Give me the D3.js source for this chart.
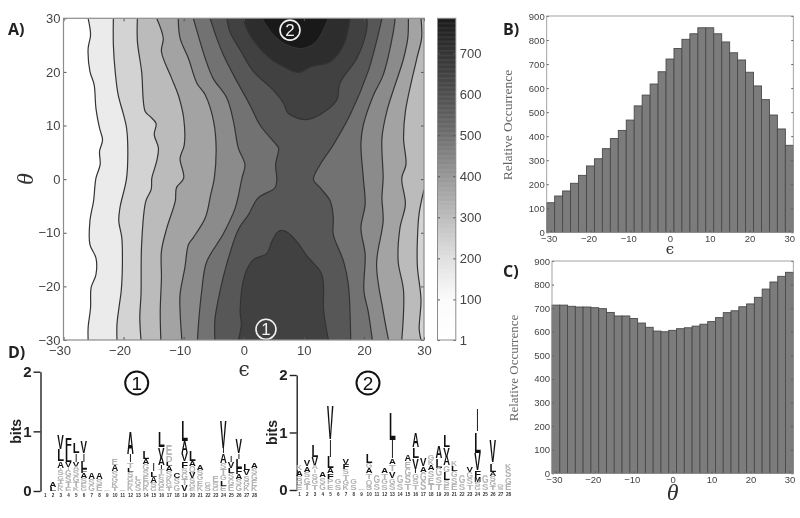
<!DOCTYPE html>
<html>
<head>
<meta charset="utf-8">
<script src="https://cdn.jsdelivr.net/npm/d3@7"></script>
<style>
  html, body { margin: 0; padding: 0; background: #fff; }
  svg { display: block; filter: blur(0.5px); }
  text { font-family: "Liberation Sans", sans-serif; }
</style>
</head>
<body>
<div id="figure"></div>
<script>
// Contour lines of panel A as [epsilon, theta], top to bottom
const level1 = [[-25.9,30],[-25.5,26.9],[-25.9,24.4],[-25.6,20.1],[-24.9,17.6],[-24.6,13.2],[-24,9.5],[-23.5,7.3],[-24,5.2],[-23.9,2.7],[-24.6,0.2],[-25,-4.1],[-25.6,-7.8],[-25.6,-12.2],[-24.6,-14.7],[-24.6,-17.8],[-25.4,-20.2],[-25.5,-24],[-25.9,-27.7],[-25.9,-30]];
const level2 = [[-21.7,30],[-21.7,25],[-21.4,20.1],[-20.9,15.7],[-20,12],[-19.5,9.5],[-19.3,5.8],[-19.5,0.2],[-20.6,-5.3],[-20.8,-7.8],[-20.3,-10.9],[-20.2,-15.9],[-20.4,-20.9],[-20.7,-23.4],[-21.1,-27.1],[-21.1,-30]];
const level3Left = [[-17.7,30],[-17.7,25.7],[-17,20.1],[-16.4,12.6],[-15.6,11.7],[-14.6,10.4],[-14.9,8.3],[-14.2,5.8],[-14.5,3.3],[-15.3,0.2],[-15.4,-1.9],[-16.3,-4.1],[-17,-12.2],[-17.1,-21.5],[-17.3,-25.8],[-17.1,-30]];
const level3Right = [[30,-2],[29.2,-6.3],[28.9,-11.3],[28.9,-16.3],[29.5,-22.5],[29.2,-28],[29.5,-30]];
const level4Left = [[-14.5,30],[-13.4,26.3],[-13.7,23.8],[-12,18.8],[-10.9,15.7],[-10,11.4],[-9.9,6.4],[-10.6,3.9],[-10,0.2],[-11.2,-1.6],[-11.4,-4.1],[-12.8,-9.1],[-13.7,-13.4],[-13.7,-18.4],[-13.9,-24.6],[-13.8,-30]];
const level4Right = [[29.5,30],[29.6,26.3],[28.8,22.5],[26.9,12.6],[26.6,7.6],[27,2.7],[26.3,0.2],[26.9,-4.7],[26,-9.1],[25.7,-15.3],[26.6,-20.9],[26.3,-30]];
const level5Left = [[-10.9,30],[-10.6,26.3],[-9.2,22.5],[-7.8,17.9],[-6.4,15.7],[-5,10.7],[-4.6,5.8],[-4.9,0.2],[-5.5,-2.9],[-6.4,-7.2],[-8.4,-10.9],[-9.2,-12.2],[-9.8,-16.5],[-10.6,-21.5],[-10.6,-24.6],[-10.3,-30]];
const level5Right = [[27.4,30],[27.3,26.3],[26.6,22.5],[23.8,12.6],[23,7.6],[23.2,0.2],[23,-3.5],[23.2,-7.8],[22.1,-15.9],[23.2,-24.6],[24.1,-30]];
const level6Left = [[-8.4,30],[-7.6,26.9],[-6.4,22.5],[-5.1,18.8],[-2.8,15.1],[-1.7,10.7],[-0.9,5.8],[0.2,2.7],[-0.3,0.2],[-1.4,-5.3],[-3.4,-10.2],[-6.2,-15.5],[-7,-20.9],[-7.5,-26.5],[-7.7,-30]];
const level6Right = [[25.2,30],[24.9,27.5],[23.2,19.4],[21.6,15.7],[19.9,10.1],[19.5,6.7],[19.9,0.2],[20.2,-4.7],[19.5,-9.1],[20.2,-14],[20,-20.9],[20.7,-24.6],[21.4,-30]];
const level7Left = [[-5.6,30],[-4.5,26.3],[-3.4,23.2],[-1.7,19.4],[1,13.9],[2.7,10.1],[5.2,6.7],[5.8,5.8],[5.3,2.7],[5.5,-0.1],[5.2,-1.6],[2.4,-3.5],[0.8,-6.6],[-0.9,-9.4],[-2.8,-15.7],[-3.9,-20.6],[-4.8,-26.2],[-4.8,-30]];
const level7Right = [[23,30],[22.1,25.7],[20.7,20.1],[17.7,12],[14.9,6.4],[12.7,2.7],[11.6,-0.1],[12.7,-1.6],[14.4,-4.1],[14.9,-7.2],[14.9,-10.3],[16.6,-15.3],[17.4,-19.6],[17.8,-30]];
const level8Top = [[-2.8,30],[-2.3,27.5],[-0.6,24.1],[1.6,20.1],[4.9,16.6],[6.6,14.2],[7.4,12.3],[10.5,11.1],[13.5,12.6],[15.5,14.8],[16,17.9],[18.8,22.5],[20.4,27.5],[20.5,30]];
const level8Bottom = [[-0.9,-30],[-0.4,-27.1],[-0.6,-24.6],[0.2,-17.8],[1.6,-15],[3.8,-13.9],[4.7,-11.6],[5.8,-9.7],[6.9,-9.7],[8.8,-11.6],[10.5,-14.3],[13,-17.8],[13.3,-24.6],[14.1,-30]];
const level9 = [[-0.1,30],[1,26.9],[4.4,22.5],[6.6,21],[9.1,19.9],[11.3,21],[14.4,21.9],[16.6,25],[17.7,30]];
const level10 = [[3,30],[4.9,26.9],[7.2,25],[9.9,24.4],[12.1,25.7],[14.1,30]];

// Grey of each band, lightest first
const bandGreys = ["#ebebeb","#d3d3d3","#bbbbbb","#a3a3a3","#8b8b8b","#727272","#575757","#414141","#2d2d2d","#191919"];

// Colour bar
const barValues = [1,100,200,300,400,500,600,700,785];
const barGreys = ["#ffffff","#fbfbfb","#e0e0e0","#bdbdbd","#989898","#707070","#505050","#353535","#1c1c1c"];
const barTicks = [1,100,200,300,400,500,600,700];

// Circled numbers on panel A
const markerNames = ["1","2"];
const markerEps = [3.7,7.7];
const markerTheta = [-28,27.8];

// Histograms, bins of width 2 from -30 to 30
const binCentres = d3.range(-30,31,2);
const epsCounts = [123,151,172,204,237,276,306,348,390,424,467,526,571,617,668,721,765,803,826,851,851,826,792,747,717,666,609,552,488,430,362];
const thetaCounts = [713,713,708,705,705,702,698,682,667,667,656,637,619,603,600,606,613,617,624,632,643,660,681,689,706,718,746,781,811,835,852];
const histXTicks = [-30,-20,-10,0,10,20,30];
const histYTicks = d3.range(0,901,100);

// Sequence logos: column number, then the letters top down with their height in bits
const logoOne = [
  [2,[["A",.08],["L",.07]]],
  [3,[["V",.24],["L",.2],["A",.11],["I",.05],["S",.08],["G",.07],["T",.07],["E",.06],["K",.06]]],
  [4,[["F",.2],["L",.2],["V",.08],["I",.05],["G",.1],["S",.1],["T",.08],["E",.07]]],
  [5,[["L",.17],["I",.14],["V",.08],["A",.06],["S",.1],["G",.1],["T",.08],["K",.07]]],
  [6,[["V",.2],["I",.14],["L",.12],["F",.07],["A",.08],["S",.08],["E",.07],["G",.07]]],
  [7,[["A",.1],["S",.1],["G",.1]]],
  [8,[["A",.1],["S",.1],["E",.1]]],
  [9,[["G",.03]]],
  [10,[["E",.11],["A",.1],["S",.1],["G",.09],["K",.08],["T",.07]]],
  [11,[["S",.03]]],
  [12,[["A",.38],["I",.14],["T",.09],["L",.07],["S",.08],["G",.07],["E",.07],["K",.1]]],
  [13,[["L",.06],["G",.09],["S",.1]]],
  [14,[["L",.14],["A",.09],["G",.1],["S",.1],["E",.09],["D",.08],["K",.08]]],
  [15,[["I",.12],["L",.09],["A",.1],["S",.08],["G",.06]]],
  [16,[["L",.27],["V",.17],["A",.12],["I",.08],["T",.08],["F",.05],["S",.08],["G",.08],["E",.07]]],
  [17,[["E",.17],["D",.11],["L",.07],["A",.09],["S",.1],["K",.1],["G",.07],["T",.06]]],
  [18,[["C",.08],["S",.11],["G",.11]]],
  [19,[["L",.36],["A",.2],["V",.14],["F",.11],["S",.09],["G",.1],["T",.1],["V",.1]]],
  [20,[["L",.17],["A",.09],["Q",.1],["V",.1],["S",.09],["G",.08],["E",.05]]],
  [21,[["A",.09],["S",.09],["G",.09],["E",.09],["K",.09]]],
  [22,[["G",.06],["S",.09]]],
  [23,[["E",.1],["S",.08],["G",.07]]],
  [24,[["V",.47],["I",.09],["A",.16],["S",.1],["T",.1],["G",.09],["L",.09],["E",.09]]],
  [25,[["I",.11],["V",.11],["L",.08],["S",.1],["G",.1],["E",.1]]],
  [26,[["V",.24],["I",.09],["L",.15],["F",.1],["A",.09],["S",.1],["G",.1]]],
  [27,[["L",.1],["V",.09],["S",.09],["G",.09],["K",.08]]],
  [28,[["A",.09],["S",.1],["G",.1],["E",.1],["K",.09]]]
];
const logoTwo = [
  [1,[["K",.08],["A",.09],["S",.09],["G",.08],["E",.08]]],
  [2,[["V",.12],["A",.09],["S",.1],["G",.11],["T",.11]]],
  [3,[["L",.2],["V",.15],["A",.06],["I",.06],["S",.1],["G",.1],["T",.1]]],
  [4,[["A",.08],["S",.11],["G",.11]]],
  [5,[["V",.6],["I",.3],["L",.2],["A",.08],["F",.1],["P",.1],["E",.1]]],
  [6,[["G",.1],["S",.1]]],
  [7,[["V",.1],["F",.08],["S",.1],["T",.1],["G",.09],["K",.08]]],
  [8,[["G",.1],["S",.1]]],
  [9,[["S",.02]]],
  [10,[["L",.16],["G",.08],["A",.1],["T",.1],["Q",.1],["S",.09]]],
  [11,[["G",.13],["S",.12]]],
  [12,[["A",.1],["T",.1],["G",.1],["S",.1]]],
  [13,[["L",.48],["I",.32],["A",.1],["T",.12],["V",.12],["G",.1],["S",.11]]],
  [14,[["G",.13],["S",.12]]],
  [15,[["A",.12],["E",.12],["G",.13],["S",.13],["T",.12]]],
  [16,[["A",.26],["L",.19],["V",.18],["I",.07],["G",.1],["S",.1],["T",.1]]],
  [17,[["V",.13],["A",.1],["G",.16],["S",.16]]],
  [18,[["G",.09],["K",.09],["A",.09],["S",.12],["E",.12],["T",.11]]],
  [19,[["A",.2],["L",.16],["G",.15],["S",.12],["T",.12]]],
  [20,[["L",.2],["V",.17],["A",.15],["G",.12],["L",.14],["S",.09],["E",.08]]],
  [21,[["K",.08],["L",.09],["G",.11],["S",.11],["E",.11]]],
  [22,[["G",.13],["S",.12]]],
  [23,[["V",.08],["G",.11],["S",.11],["T",.1]]],
  [24,[["I",.38],["L",.37],["V",.3],["F",.12],["M",.09],["S",.07],["G",.07]]],
  [25,[["G",.13],["S",.12]]],
  [26,[["V",.39],["I",.03],["L",.13],["A",.07],["S",.09],["G",.09],["T",.07]]],
  [27,[["G",.05],["S",.05]]],
  [28,[["K",.1],["S",.13],["G",.12],["E",.11]]]
];
const logoColumns = d3.range(1,29);

const width = 800, height = 518;
const axisGrey = "#8c8c8c", labelGrey = "#444";

const svg = d3.select("#figure").append("svg")
    .attr("width", width)
    .attr("height", height);

// Panel letters
function panelLabel(text, x, y) {
    svg.append("text")
        .attr("x", x).attr("y", y)
        .attr("font-weight", "bold")
        .attr("font-size", 16)
        .attr("fill", "#222")
        .style("font-family", "'Open Sans', sans-serif")
        .text(text);
}
panelLabel("A)", 8, 35);
panelLabel("B)", 503, 35);
panelLabel("C)", 503, 277);
panelLabel("D)", 8, 358);

// Shared axis styling
function styleAxis(g, colour, size) {
    g.selectAll(".domain").remove();
    g.selectAll(".tick line").attr("stroke", colour);
    g.selectAll(".tick text").attr("fill", labelGrey).attr("font-size", size)
        .style("font-family", "'Liberation Sans', sans-serif");
}

// ---- Panel A: filled contours ----
const contourX = d3.scaleLinear().domain([-30, 30]).range([63.5, 424]);
const contourY = d3.scaleLinear().domain([-30, 30]).range([340, 18.3]);
const contourLine = d3.line()
    .x(d => contourX(d[0]))
    .y(d => contourY(d[1]))
    .curve(d3.curveCatmullRom.alpha(0.5));

// Closed outline of everything above a level
function ringPath(left, right, corners) {
    let path = contourLine(left);
    if (right) path += "L" + contourLine(right.slice().reverse()).slice(1);
    (corners || []).forEach(c => { path += `L${contourX(c[0])},${contourY(c[1])}`; });
    return path + "Z";
}

const bands = [
    { grey: bandGreys[0], path: ringPath(level1, null, [[30,-30],[30,30]]) },
    { grey: bandGreys[1], path: ringPath(level2, null, [[30,-30],[30,30]]) },
    { grey: bandGreys[2], path: ringPath(level3Left, level3Right, [[30,30]]) },
    { grey: bandGreys[3], path: ringPath(level4Left, level4Right) },
    { grey: bandGreys[4], path: ringPath(level5Left, level5Right) },
    { grey: bandGreys[5], path: ringPath(level6Left, level6Right) },
    { grey: bandGreys[6], path: ringPath(level7Left, level7Right) },
    { grey: bandGreys[7], path: ringPath(level8Top) },
    { grey: bandGreys[7], path: ringPath(level8Bottom) },
    { grey: bandGreys[8], path: ringPath(level9) },
    { grey: bandGreys[9], path: ringPath(level10) }
];
const contourLines = [level1, level2, level3Left, level3Right, level4Left, level4Right, level5Left, level5Right,
    level6Left, level6Right, level7Left, level7Right, level8Top, level8Bottom, level9, level10];

svg.append("clipPath").attr("id", "contour-clip").append("rect")
    .attr("x", 63.5).attr("y", 18.3).attr("width", 360.5).attr("height", 321.7);

const panelA = svg.append("g").attr("clip-path", "url(#contour-clip)");
panelA.selectAll("path.band").data(bands).join("path")
    .attr("class", "band")
    .attr("d", d => d.path)
    .attr("fill", d => d.grey);
panelA.selectAll("path.level").data(contourLines).join("path")
    .attr("class", "level")
    .attr("d", contourLine)
    .attr("fill", "none")
    .attr("stroke", "#333")
    .attr("stroke-width", 1.2);

// Circled numbers
const markers = svg.selectAll("g.marker").data(markerNames).join("g")
    .attr("class", "marker")
    .attr("transform", (d, i) => `translate(${contourX(markerEps[i])},${contourY(markerTheta[i])})`);
markers.append("circle").attr("r", 10).attr("fill", "none").attr("stroke", "#f2f2f2").attr("stroke-width", 1.6);
markers.append("text")
    .attr("text-anchor", "middle").attr("dy", "0.36em")
    .attr("font-size", 17).attr("fill", "#f2f2f2")
    .text(d => d);

// Axes of panel A
const contourTicks = [-30,-20,-10,0,10,20,30];
svg.append("g").attr("transform", "translate(0,340)")
    .call(d3.axisBottom(contourX).tickValues(contourTicks).tickSize(-3).tickPadding(6))
    .call(styleAxis, "#555", 13)
    .selectAll(".tick text").attr("x", d => d < 0 ? -4 : 0);
svg.append("g").attr("transform", "translate(63.5,0)")
    .call(d3.axisLeft(contourY).tickValues(contourTicks).tickSize(-3).tickPadding(3))
    .call(styleAxis, "#555", 13);
svg.append("g").attr("transform", "translate(424,0)")
    .call(d3.axisRight(contourY).tickValues(contourTicks).tickSize(-3).tickFormat(""))
    .call(styleAxis, "#555", 13);
svg.append("g").attr("transform", "translate(0,18.3)")
    .call(d3.axisTop(contourX).tickValues(contourTicks).tickSize(-3).tickFormat(""))
    .call(styleAxis, "#555", 13);
svg.append("rect")
    .attr("x", 63.5).attr("y", 18.3).attr("width", 360.5).attr("height", 321.7)
    .attr("fill", "none").attr("stroke", axisGrey).attr("stroke-width", 1.2);

svg.append("text")
    .attr("transform", "translate(33,179) rotate(-90)")
    .attr("text-anchor", "middle")
    .attr("font-size", 24).attr("font-style", "italic").attr("fill", "#333")
    .style("font-family", "'Liberation Serif', serif")
    .text("θ");
svg.append("text")
    .attr("x", 244).attr("y", 376)
    .attr("text-anchor", "middle")
    .attr("font-size", 20).attr("fill", "#333")
    .style("font-family", "'DejaVu Serif', serif")
    .text("ϵ");

// ---- Colour bar ----
const barY = d3.scaleLinear().domain([1, 785]).range([340, 18.3]);
const barColour = d3.scaleLinear().domain(barValues).range(barGreys);
svg.append("g").selectAll("rect").data(d3.range(1, 785, 2)).join("rect")
    .attr("x", 437.5).attr("width", 18.3)
    .attr("y", d => barY(d + 2))
    .attr("height", d => barY(d) - barY(d + 2) + 0.5)
    .attr("fill", d => barColour(d));
svg.append("g").attr("transform", "translate(455.8,0)")
    .call(d3.axisRight(barY).tickValues(barTicks).tickSize(-2.5).tickPadding(4))
    .call(styleAxis, "#555", 13);
svg.append("g").attr("transform", "translate(437.5,0)")
    .call(d3.axisLeft(barY).tickValues(barTicks).tickSize(-2.5).tickFormat(""))
    .call(styleAxis, "#555", 13);
svg.append("rect")
    .attr("x", 437.5).attr("y", 18.3).attr("width", 18.3).attr("height", 321.7)
    .attr("fill", "none").attr("stroke", axisGrey).attr("stroke-width", 1);

// ---- Panels B and C: histograms ----
function histogram(counts, box, xLabel, yLabel) {
    const x = d3.scaleLinear().domain([-31, 31]).range([box.left, box.right]);
    const y = d3.scaleLinear().domain([0, 900]).range([box.bottom, box.top]);
    const g = svg.append("g");

    g.selectAll("rect").data(counts).join("rect")
        .attr("x", (d, i) => x(binCentres[i] - 1))
        .attr("width", x(2) - x(0))
        .attr("y", d => y(d))
        .attr("height", d => y(0) - y(d))
        .attr("fill", "#7c7c7c")
        .attr("stroke", "#4a4a4a")
        .attr("stroke-width", 0.9);

    g.append("g").attr("transform", `translate(0,${box.bottom})`)
        .call(d3.axisBottom(x).tickValues(histXTicks).tickSize(-2).tickPadding(3))
        .call(styleAxis, "#555", 9.5)
        .selectAll(".tick text").attr("x", d => d < 0 ? -2 : 0);
    g.append("g").attr("transform", `translate(${box.left},0)`)
        .call(d3.axisLeft(y).tickValues(histYTicks).tickSize(-2).tickPadding(2))
        .call(styleAxis, "#555", 9.5);
    g.append("g").attr("transform", `translate(${box.right},0)`)
        .call(d3.axisRight(y).tickValues(histYTicks).tickSize(-2).tickFormat(""))
        .call(styleAxis, "#555", 9.5);
    g.append("rect")
        .attr("x", box.left).attr("y", box.top)
        .attr("width", box.right - box.left).attr("height", box.bottom - box.top)
        .attr("fill", "none").attr("stroke", "#999").attr("stroke-width", 0.9);

    g.append("text")
        .attr("transform", `translate(${yLabel.x},${yLabel.y}) rotate(-90)`)
        .attr("text-anchor", "middle")
        .attr("font-size", yLabel.size).attr("fill", "#666")
        .style("font-family", "'Liberation Serif', serif")
        .text("Relative Occurrence");
    g.append("text")
        .attr("x", x(0)).attr("y", xLabel.y)
        .attr("text-anchor", "middle")
        .attr("font-size", xLabel.size).attr("font-style", xLabel.italic ? "italic" : null)
        .attr("fill", "#333")
        .style("font-family", xLabel.italic ? "'Liberation Serif', serif" : "'DejaVu Serif', serif")
        .text(xLabel.text);
}

histogram(epsCounts, { left: 546.7, right: 793.3, top: 16, bottom: 232.3 },
    { text: "ϵ", y: 254, size: 15, italic: false },
    { x: 512, y: 125, size: 13.5 });
histogram(thetaCounts, { left: 552, right: 793.3, top: 261, bottom: 473.3 },
    { text: "θ", y: 500, size: 24, italic: true },
    { x: 518, y: 368, size: 13 });

// ---- Panel D: sequence logos ----
const darkLetters = "LVAIFMWC";

function logo(stacks, box) {
    const x = d3.scaleLinear().domain([1, 28]).range([box.first, box.last]);
    const y = d3.scaleLinear().domain([0, 2]).range([box.bottom, box.top]);
    const g = svg.append("g");

    g.append("g").attr("transform", `translate(${box.axis},0)`)
        .call(d3.axisLeft(y).tickValues([0, 1, 2]).tickFormat(d3.format("d")).tickSize(7).tickSizeOuter(0).tickPadding(2))
        .call(a => {
            a.selectAll("path, line").attr("stroke", "#222").attr("stroke-width", 1.4);
            a.selectAll("text").attr("font-size", 15).attr("font-weight", "bold").attr("fill", "#222")
                .style("font-family", "'Liberation Sans', sans-serif");
        });

    g.append("text")
        .attr("transform", `translate(${box.axis - 20},${y(1)}) rotate(-90)`)
        .attr("text-anchor", "middle")
        .attr("font-size", 14).attr("font-weight", "bold").attr("fill", "#222")
        .text("bits");

    // Column numbers below the letters
    g.selectAll("text.pos").data(logoColumns).join("text")
        .attr("class", "pos")
        .attr("x", d => x(d)).attr("y", box.bottom + 5.5)
        .attr("text-anchor", "middle")
        .attr("font-size", 4.6).attr("font-weight", "bold").attr("fill", "#333")
        .text(d => d);

    // Letters stretched to their height in bits, stacked up from the top of each column
    stacks.forEach(([column, letters]) => {
        let level = d3.sum(letters, d => d[1]);
        letters.forEach(([letter, bits]) => {
            const t = g.append("text")
                .attr("font-size", 10)
                .attr("font-weight", "bold")
                .attr("fill", darkLetters.includes(letter) && bits > 0.06 ? "#111" : "#b4b4b4")
                .text(letter);
            const advance = t.node().getBBox().width;
            const boxWidth = letter === "I" ? 2 : 6.8;
            const sx = boxWidth / advance;
            const sy = (y(level - bits) - y(level)) / 7.16;
            t.attr("transform", `translate(${x(column) - boxWidth / 2},${y(level - bits)}) scale(${sx},${sy})`);
            level -= bits;
        });
    });

    const title = g.append("g").attr("transform", `translate(${box.titleX},383)`);
    title.append("circle").attr("r", 11.5).attr("fill", "none").attr("stroke", "#111").attr("stroke-width", 2);
    title.append("text").attr("text-anchor", "middle").attr("dy", "0.36em")
        .attr("font-size", 19).attr("fill", "#111").text(box.title);
}

logo(logoOne, { axis: 40.5, first: 45.2, last: 254.5, top: 371.7, bottom: 491, titleX: 136.7, title: "1" });
logo(logoTwo, { axis: 296.7, first: 299.5, last: 508.5, top: 375, bottom: 490, titleX: 368, title: "2" });
</script>
</body>
</html>
